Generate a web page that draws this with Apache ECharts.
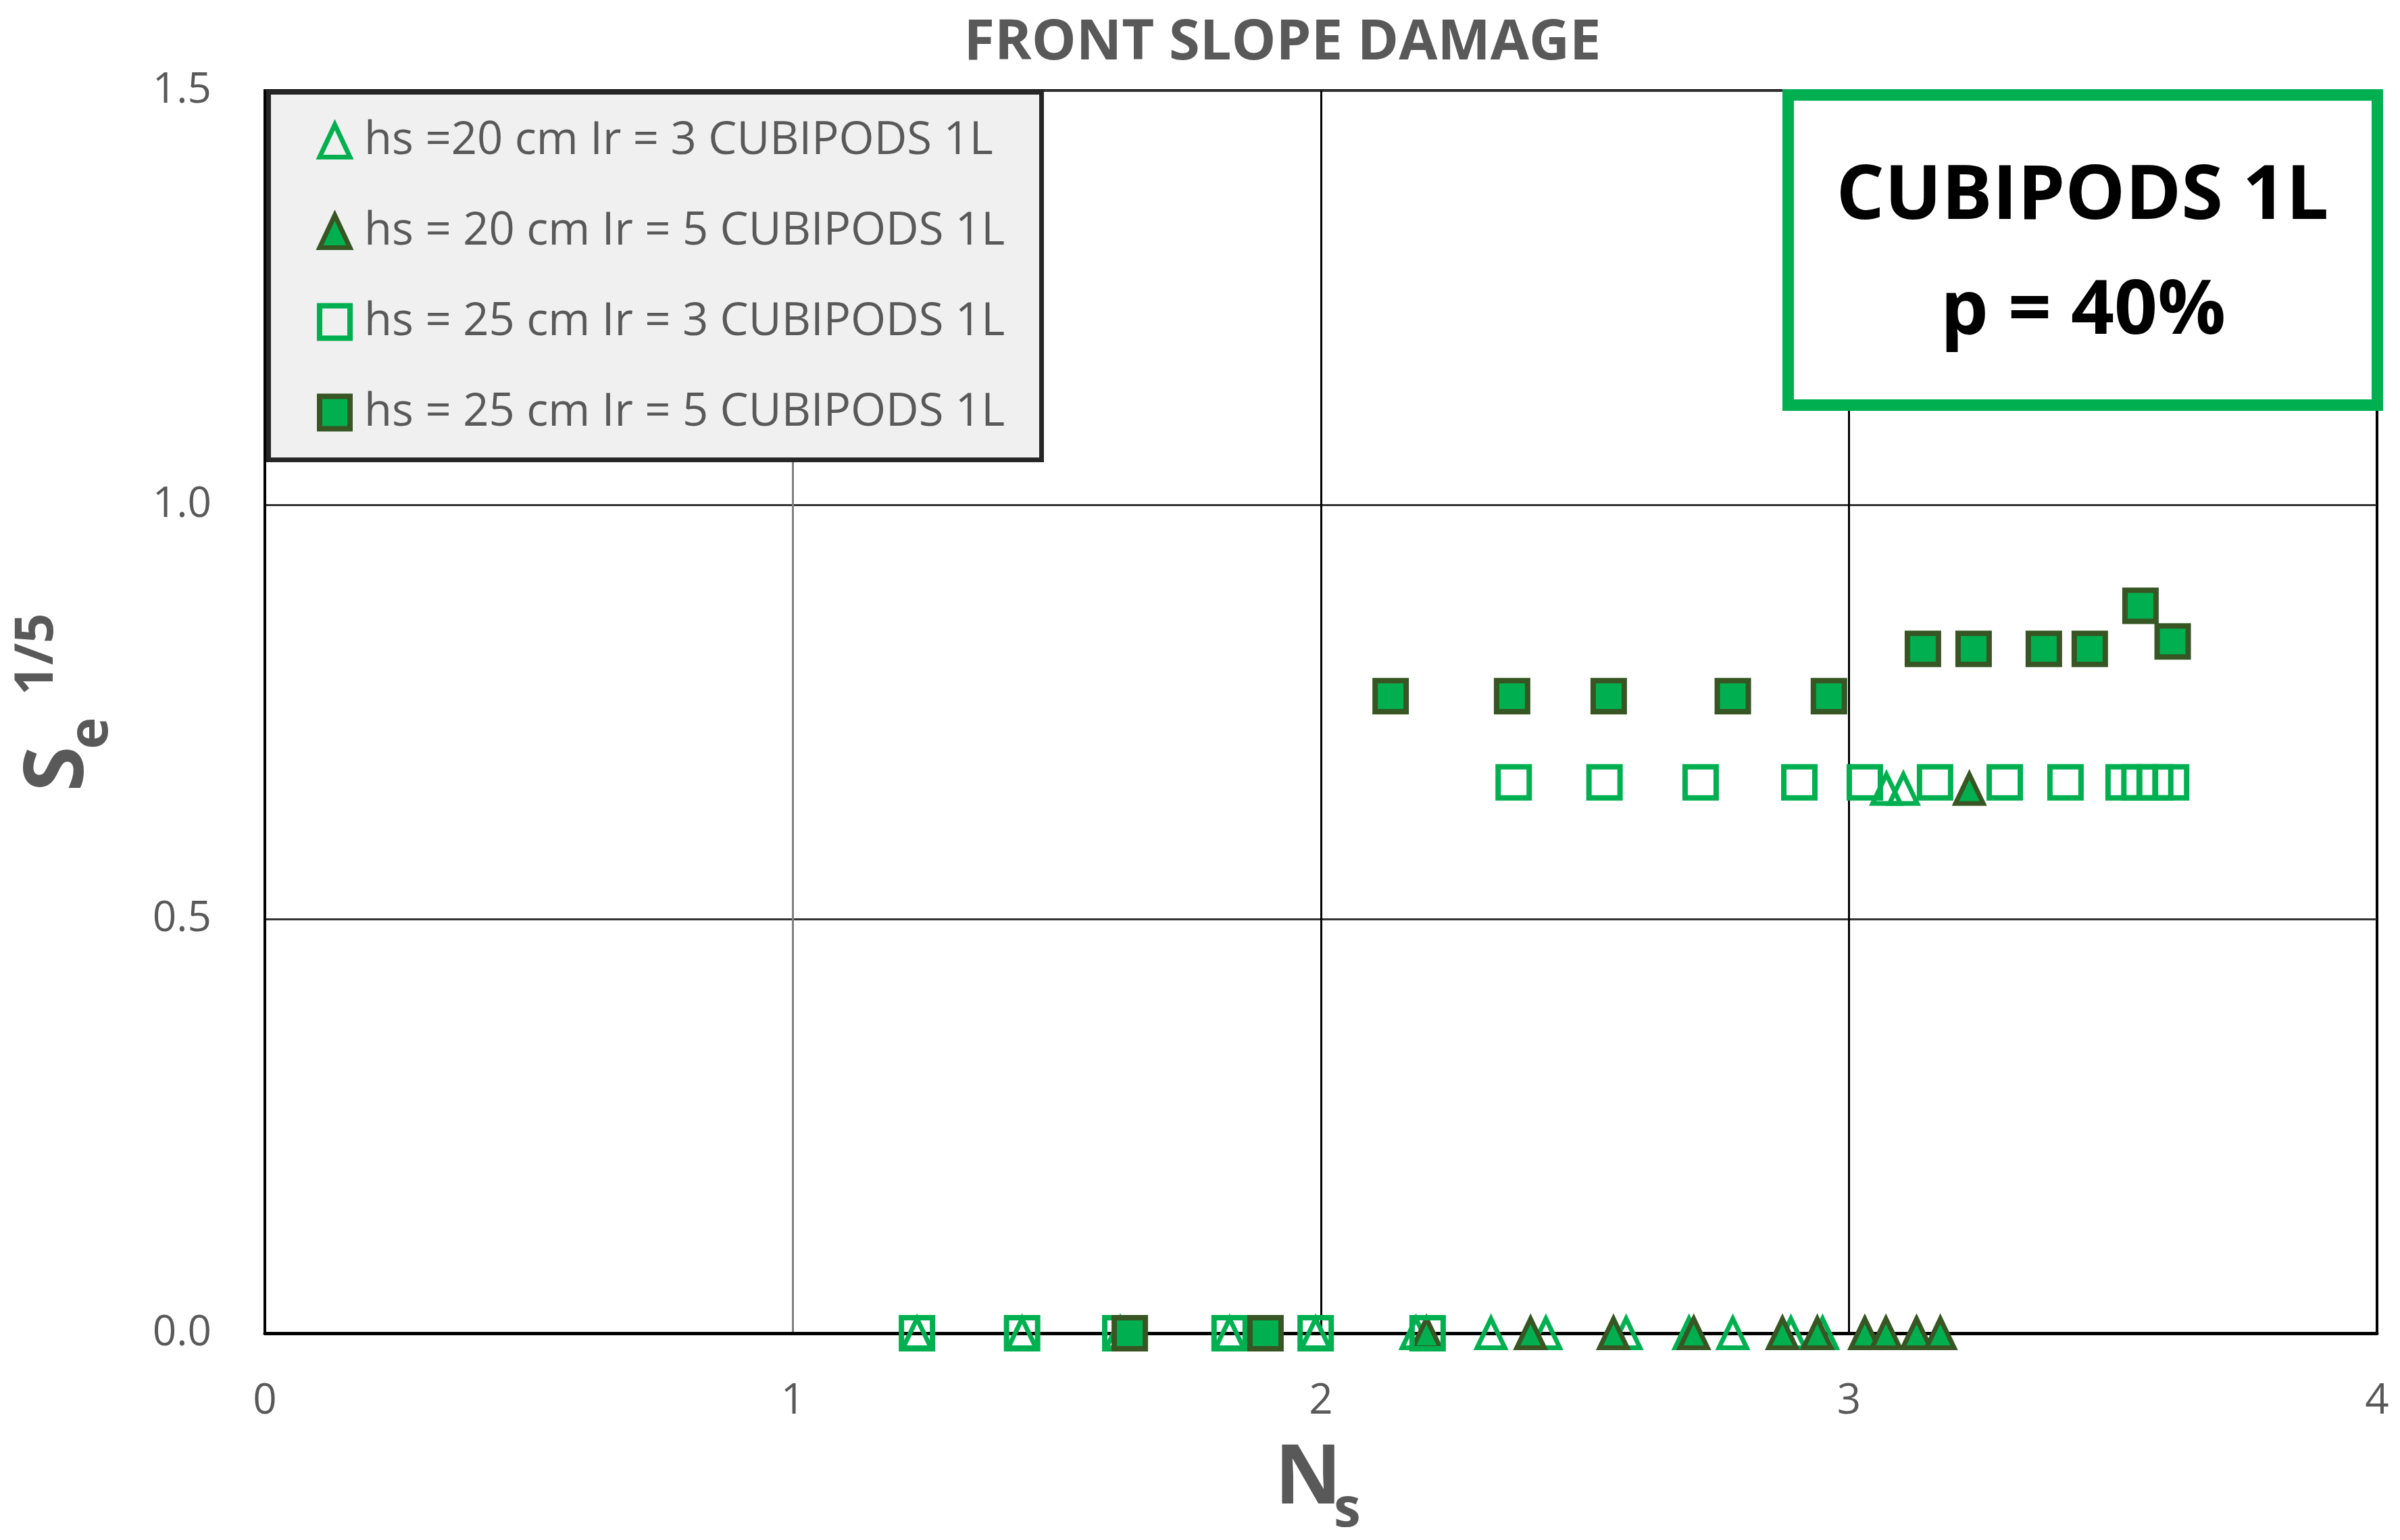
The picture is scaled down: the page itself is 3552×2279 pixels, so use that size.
<!DOCTYPE html>
<html>
<head>
<meta charset="utf-8">
<script src="https://cdn.jsdelivr.net/npm/echarts@6/dist/echarts.min.js"></script>
<style>
html,body{margin:0;padding:0;background:#fff;}
#chart{width:3552px;height:2279px;}
</style>
</head>
<body>
<div id="chart"></div>
<script>
// ---- data ----
const seriesNames = [
  'hs =20 cm Ir = 3 CUBIPODS 1L',
  'hs = 20 cm Ir = 5 CUBIPODS 1L',
  'hs = 25 cm Ir = 3 CUBIPODS 1L',
  'hs = 25 cm Ir = 5 CUBIPODS 1L'
];
const tri20ir3_Ns = [1.235,1.434,1.62,1.827,1.99,2.18,2.322,2.426,2.578,2.697,2.78,2.89,2.95,3.071,3.103];
const tri20ir3_Se = [0,0,0,0,0,0,0,0,0,0,0,0,0,0.657,0.657];
const tri20ir5_Ns = [2.20,2.397,2.554,2.706,2.874,2.94,3.03,3.07,3.128,3.173,3.228];
const tri20ir5_Se = [0,0,0,0,0,0,0,0,0,0,0.657];
const sq25ir3_Ns = [1.235,1.434,1.62,1.827,1.99,2.202,2.365,2.537,2.719,2.906,3.030,3.163,3.295,3.41,3.52,3.55,3.58,3.61];
const sq25ir3_Se = [0,0,0,0,0,0,0.665,0.665,0.665,0.665,0.665,0.665,0.665,0.665,0.665,0.665,0.665,0.665];
const sq25ir5_Ns = [1.638,1.895,2.132,2.362,2.545,2.78,2.962,3.140,3.236,3.369,3.456,3.552,3.613];
const sq25ir5_Se = [0,0,0.769,0.769,0.769,0.769,0.769,0.826,0.826,0.826,0.826,0.878,0.835];
const xTicks = [0,1,2,3,4];
const yTicks = [0,0.5,1.0,1.5];

const GREEN = '#00B050';
const DARK = '#375623';
const GREY = '#595959';
const FONT = 'Open Sans';

function pairs(xs, ys){ return xs.map((x,i)=>[x, ys[i]]); }

const styles = [
  {symbol:'triangle', size:[41,43], itemStyle:{opacity:1, color:'rgba(0,0,0,0)', borderColor:GREEN, borderWidth:7, borderJoin:'miter', borderMiterLimit:10}},
  {symbol:'triangle', size:[41,43], itemStyle:{opacity:1, color:GREEN, borderColor:DARK, borderWidth:7, borderJoin:'miter', borderMiterLimit:10}},
  {symbol:'rect', size:46, itemStyle:{opacity:1, color:'rgba(0,0,0,0)', borderColor:GREEN, borderWidth:8}},
  {symbol:'rect', size:46, itemStyle:{opacity:1, color:GREEN, borderColor:DARK, borderWidth:8}}
];
const dataSets = [
  pairs(tri20ir3_Ns, tri20ir3_Se),
  pairs(tri20ir5_Ns, tri20ir5_Se),
  pairs(sq25ir3_Ns, sq25ir3_Se),
  pairs(sq25ir5_Ns, sq25ir5_Se)
];

const chart = echarts.init(document.getElementById('chart'), null, {renderer:'canvas'});
const option = {
  backgroundColor:'#fff',
  animation:false,
  title:{
    text:'FRONT SLOPE DAMAGE',
    left:1893, top:18, textAlign:'center',
    textStyle:{fontFamily:FONT, fontWeight:'bold', fontSize:83, color:GREY}
  },
  grid:{left:392, right:34, top:134, bottom:306, show:true, borderColor:'#000', borderWidth:4, backgroundColor:'#fff'},
  xAxis:{
    type:'value', min:xTicks[0], max:xTicks[xTicks.length-1], interval:1,
    axisLine:{show:true, onZero:false, lineStyle:{color:'#000', width:5}},
    axisTick:{show:false},
    axisLabel:{fontFamily:FONT, fontSize:62, color:GREY, margin:70},
    splitLine:{show:true, lineStyle:{color:['#000','#808080','#000','#000','#000'], width:3}}
  },
  yAxis:{
    type:'value', min:yTicks[0], max:yTicks[yTicks.length-1], interval:0.5,
    axisLine:{show:true, lineStyle:{color:'#000', width:3}},
    axisTick:{show:false},
    axisLabel:{fontFamily:FONT, fontSize:62, color:GREY, margin:79, formatter:v=>v.toFixed(1)},
    splitLine:{show:true, lineStyle:{color:'#333', width:3}}
  },
  legend:{
    orient:'vertical', left:469, top:175, padding:0, itemGap:67, itemWidth:45, itemHeight:48,
    selectedMode:false, z:10,
    textStyle:{fontFamily:FONT, fontSize:67, color:GREY, lineHeight:66, padding:[0,0,0,16]},
    data: seriesNames.map((n,i)=>({name:n, icon:styles[i].symbol, itemStyle:Object.assign({}, styles[i].itemStyle)}))
  },
  series: seriesNames.map((n,i)=>({
    name:n, type:'scatter', symbol:styles[i].symbol, symbolSize:styles[i].size,
    itemStyle:styles[i].itemStyle, data:dataSets[i], clip:false, z:2+i
  })),
  graphic:[
    {type:'rect', z:8, shape:{x:397.5, y:136.5, width:1144, height:544},
      style:{fill:'#F0F0F0', stroke:'#262626', lineWidth:7}},
    {type:'rect', z:8, shape:{x:2646.5, y:140.5, width:872, height:459},
      style:{fill:'#fff', stroke:GREEN, lineWidth:17}},
    {type:'text', z:9, x:3082, y:292, style:{text:'CUBIPODS 1L', font:'bold 112px "Open Sans"', fill:'#000', align:'center', verticalAlign:'middle'}},
    {type:'text', z:9, x:3083, y:462, style:{text:'p = 40%', font:'bold 112px "Open Sans"', fill:'#000', align:'center', verticalAlign:'middle'}},
    {type:'text', z:9, x:1936, y:2190, style:{text:'N', font:'bold 122px "Open Sans"', fill:GREY, align:'center', verticalAlign:'middle'}},
    {type:'text', z:9, x:1994, y:2236, style:{text:'s', font:'bold 80px "Open Sans"', fill:GREY, align:'center', verticalAlign:'middle'}},
    {type:'group', x:0, y:0, rotation:Math.PI/2, z:9, children:[
      {type:'text', x:-1138, y:88, style:{text:'S', font:'bold 122px "Open Sans"', fill:GREY, align:'center', verticalAlign:'middle'}},
      {type:'text', x:-1085, y:136, style:{text:'e', font:'bold 80px "Open Sans"', fill:GREY, align:'center', verticalAlign:'middle'}},
      {type:'text', x:-968, y:56, style:{text:'1/5', font:'bold 78px "Open Sans"', fill:GREY, align:'center', verticalAlign:'middle'}}
    ]}
  ]
};
chart.setOption(option);
</script>
</body>
</html>
